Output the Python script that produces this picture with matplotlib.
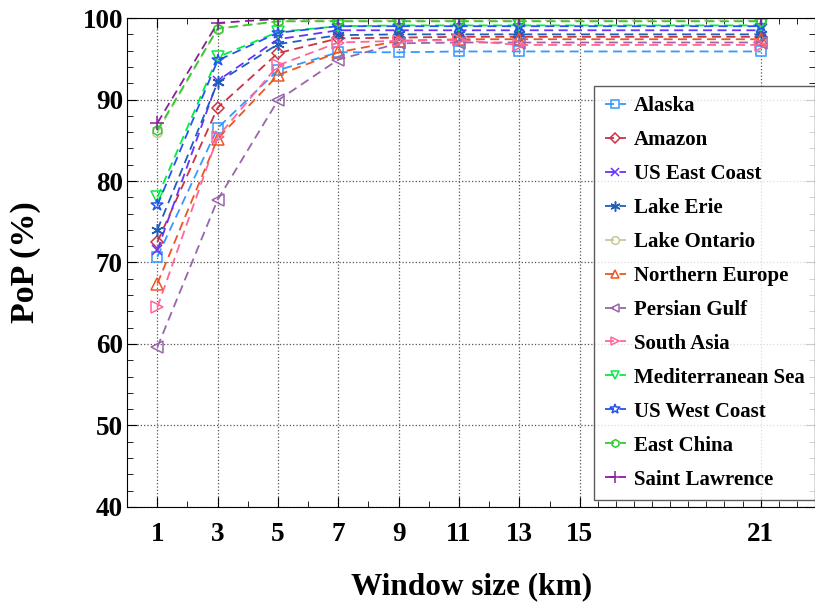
import numpy as np
import matplotlib.pyplot as plt
from matplotlib.ticker import FixedLocator

# datos de la figura (tamaño de ventana en km)
window = [1, 3, 5, 7, 9, 11, 13, 21]

regions = ['Alaska', 'Amazon', 'US East Coast', 'Lake Erie', 'Lake Ontario',
           'Northern Europe', 'Persian Gulf', 'South Asia', 'Mediterranean Sea',
           'US West Coast', 'East China', 'Saint Lawrence']

alaska = [70.7, 86.5, 93.6, 95.8, 95.8, 95.9, 95.9, 95.9]
amazon = [72.5, 89.0, 95.7, 97.5, 97.6, 97.7, 97.7, 97.7]
us_east = [71.5, 92.3, 97.4, 98.5, 98.5, 98.5, 98.5, 98.5]
lake_erie = [74.0, 92.1, 96.8, 97.9, 98.0, 98.0, 98.0, 98.0]
lake_ontario = [86.0, 98.7, 99.6, 99.7, 99.7, 99.7, 99.7, 99.7]
north_europe = [67.4, 85.2, 93.0, 95.8, 97.2, 97.4, 97.4, 97.4]
persian_gulf = [59.6, 77.7, 89.9, 94.9, 96.9, 97.0, 97.0, 97.0]
south_asia = [64.5, 85.4, 94.2, 97.0, 97.2, 97.3, 96.7, 96.7]
mediterranean = [78.0, 95.2, 98.3, 99.0, 99.1, 99.1, 99.1, 99.1]
us_west = [77.0, 94.8, 98.2, 99.0, 99.0, 99.0, 99.0, 99.0]
east_china = [86.2, 98.7, 99.6, 99.6, 99.6, 99.6, 99.6, 99.6]
saint_lawrence = [87.1, 99.4, 99.9, 100.0, 100.0, 100.0, 100.0, 100.0]

series = [alaska, amazon, us_east, lake_erie, lake_ontario, north_europe,
          persian_gulf, south_asia, mediterranean, us_west, east_china, saint_lawrence]

colors = ['#3399ff', '#cc3344', '#6633ff', '#1f5fb8', '#c8c89a', '#ee5522',
          '#9966aa', '#ff6699', '#00ee44', '#2255ee', '#33cc33', '#882299']
markers = ['s', 'D', 'x', (6, 2, 0), 'o', '^', '<', '>', 'v', '*', 'h', '+']
msizes = [7, 6, 7, 9, 7, 8, 8, 8, 8, 9, 7, 10]

plt.rcParams['font.family'] = ['Liberation Serif', 'DejaVu Serif']
plt.rcParams['font.weight'] = 'bold'

fig = plt.figure(figsize=(8.15, 6.02), dpi=100)
ax = fig.add_axes([0.156, 0.158, 0.844, 0.812])

for nombre, y, c, m, ms in zip(regions, series, colors, markers, msizes):
    ax.plot(window, y, linestyle=(0, (5, 3)), color=c, lw=1.3, marker=m,
            markersize=ms, markerfacecolor='none', markeredgecolor=c,
            markeredgewidth=1.1, label=nombre)

ax.set_xlim(0, 22.8)
ax.set_ylim(40, 100)
ax.set_xticks([1, 3, 5, 7, 9, 11, 13, 15, 21])
ax.set_yticks([40, 50, 60, 70, 80, 90, 100])
menores = list(range(2, 15, 2)) + list(np.arange(15.6, 22.8, 0.6))
ax.xaxis.set_minor_locator(FixedLocator(menores))
ax.yaxis.set_minor_locator(FixedLocator(np.arange(40, 101, 2)))
ax.tick_params(which='both', direction='in', top=True, right=True)
ax.tick_params(which='major', length=7, labelsize=19.5)
ax.tick_params(axis='y', which='major', pad=3)
ax.tick_params(axis='x', which='major', pad=11)
ax.tick_params(which='minor', length=4)
for lab in ax.get_xticklabels() + ax.get_yticklabels():
    lab.set_fontweight('bold')
ax.grid(True, which='major', linestyle=':', color='#555555', lw=0.9)

ax.set_xlabel('Window size (km)', fontsize=22.5, fontweight='bold', labelpad=18)
ax.set_ylabel('PoP (%)', fontsize=24.5, fontweight='bold', labelpad=30)

leg = ax.legend(loc='lower right', bbox_to_anchor=(1.0, 0.014), fontsize=15,
                frameon=True, fancybox=False, edgecolor='#333333',
                handlelength=1.0, handletextpad=0.4, labelspacing=0.67,
                borderaxespad=0.0, borderpad=0.5, markerscale=0.8)
leg.get_frame().set_linewidth(1.0)

fig.savefig('out.png', dpi=100)
